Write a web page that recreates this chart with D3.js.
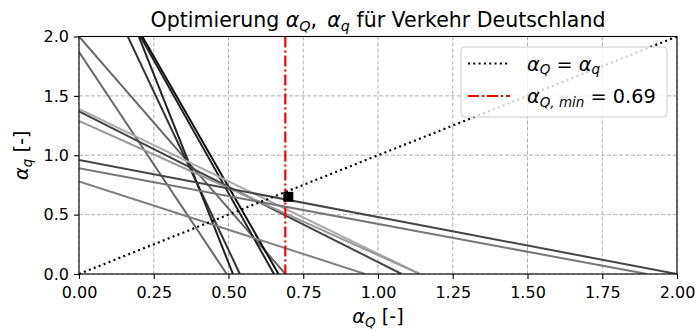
<!DOCTYPE html>
<html>
<head>
<meta charset="utf-8">
<script src="https://cdn.jsdelivr.net/npm/d3@7"></script>
<style>
body { margin: 0; background: #fff; }
text { font-family: "DejaVu Sans", sans-serif; fill: #000; }
</style>
</head>
<body>
<svg id="viz"></svg>
<script>
// constraint lines  alpha_Q / interceptQ + alpha_q / interceptq = 1
var interceptQ = [0.69, 0.494, 0.538, 0.515, 0.652, 0.667, 1.14, 1.079, 1.14, 2.0, 1.9, 0.957];
var interceptq = [2.0, 1.87, 2.87, 3.27, 2.92, 2.93, 1.39, 1.37, 1.29, 0.96, 0.89, 0.78];
var shades = ["#666", "#666", "#333", "#222", "#222", "#111", "#aaa", "#444", "#999", "#444", "#777", "#808080"];

var alphaQMin = 0.69;
var optimum = [0.70, 0.65];
var diagonal = [[0, 0], [2, 2]];

var xTicks = [0, 0.25, 0.5, 0.75, 1.0, 1.25, 1.5, 1.75, 2.0];
var yTicks = [0, 0.5, 1.0, 1.5, 2.0];

var width = 696, height = 331;
var margin = {left: 79, right: 19, top: 36.5, bottom: 57};
var w = width - margin.left - margin.right;
var h = height - margin.top - margin.bottom;
var big = 19.3, small = 16, titleSize = 20.5;

var svg = d3.select("#viz").attr("width", width).attr("height", height);

var x = d3.scaleLinear().domain([0, 2]).range([0, w]);
var y = d3.scaleLinear().domain([0, 2]).range([h, 0]);

var g = svg.append("g").attr("transform", "translate(" + margin.left + "," + margin.top + ")");

svg.append("defs").append("clipPath").attr("id", "plotclip")
    .append("rect").attr("width", w).attr("height", h);

// grid
g.append("g").selectAll("line").data(xTicks).enter().append("line")
    .attr("x1", d => x(d)).attr("x2", d => x(d)).attr("y1", 0).attr("y2", h)
    .attr("stroke", "#b0b0b0").attr("stroke-width", 1).attr("stroke-dasharray", "4,2");
g.append("g").selectAll("line").data(yTicks).enter().append("line")
    .attr("y1", d => y(d)).attr("y2", d => y(d)).attr("x1", 0).attr("x2", w)
    .attr("stroke", "#b0b0b0").attr("stroke-width", 1).attr("stroke-dasharray", "4,2");

var plot = g.append("g").attr("clip-path", "url(#plotclip)");

var lines = interceptQ.map((a, i) => ({a: a, b: interceptq[i], c: shades[i]}));
plot.selectAll("line.constraint").data(lines).enter().append("line")
    .attr("class", "constraint")
    .attr("x1", x(0)).attr("y1", d => y(d.b))
    .attr("x2", d => x(d.a)).attr("y2", y(0))
    .attr("stroke", d => d.c).attr("stroke-width", 2);

plot.append("line")
    .attr("x1", x(diagonal[0][0])).attr("y1", y(diagonal[0][1]))
    .attr("x2", x(diagonal[1][0])).attr("y2", y(diagonal[1][1]))
    .attr("stroke", "#000").attr("stroke-width", 2.2).attr("stroke-dasharray", "2,3.3");

plot.append("line")
    .attr("x1", x(alphaQMin)).attr("x2", x(alphaQMin)).attr("y1", y(2)).attr("y2", y(0))
    .attr("stroke", "#ff0000").attr("stroke-width", 2.2).attr("stroke-dasharray", "11,3,2,3");

plot.append("rect")
    .attr("x", x(optimum[0]) - 5).attr("y", y(optimum[1]) - 5)
    .attr("width", 10).attr("height", 10).attr("fill", "#000");

// axes
var xAxis = d3.axisBottom(x).tickValues(xTicks).tickFormat(d3.format(".2f"))
    .tickSize(5).tickSizeOuter(0).tickPadding(8);
var yAxis = d3.axisLeft(y).tickValues(yTicks).tickFormat(d3.format(".1f"))
    .tickSize(5).tickSizeOuter(0).tickPadding(5);

g.append("g").attr("transform", "translate(0," + h + ")").call(xAxis)
    .call(s => s.select(".domain").remove())
    .call(s => s.selectAll("text").attr("font-size", small).attr("font-family", "DejaVu Sans"));
g.append("g").call(yAxis)
    .call(s => s.select(".domain").remove())
    .call(s => s.selectAll("text").attr("font-size", small).attr("font-family", "DejaVu Sans"));
g.selectAll(".tick line").attr("stroke", "#000").attr("stroke-width", 1.1);

g.append("rect").attr("width", w).attr("height", h)
    .attr("fill", "none").attr("stroke", "#000").attr("stroke-width", 1.1);

// math-ish text with italic symbols and subscripts
function mathText(sel, parts, size) {
    var shifted = false;
    parts.forEach(function(p) {
        var ts = sel.append("tspan").text(p.t);
        if (p.it) ts.attr("font-style", "italic");
        if (p.sub) {
            ts.attr("font-size", size * 0.7);
            if (!shifted) ts.attr("dy", size * 0.2);
            shifted = true;
        } else if (shifted) {
            ts.attr("dy", -size * 0.2);
            shifted = false;
        }
    });
}

var title = svg.append("text").attr("x", margin.left + w / 2).attr("y", 27)
    .attr("text-anchor", "middle").attr("font-size", titleSize);
mathText(title, [
    {t: "Optimierung "}, {t: "α", it: true}, {t: "Q", it: true, sub: true},
    {t: ",\u2002"}, {t: "α", it: true}, {t: "q", it: true, sub: true},
    {t: " für Verkehr Deutschland"}
], titleSize);

var xl = svg.append("text").attr("x", margin.left + w / 2).attr("y", 323)
    .attr("text-anchor", "middle").attr("font-size", big);
mathText(xl, [{t: "α", it: true}, {t: "Q", it: true, sub: true}, {t: " [-]"}], big);

var yl = svg.append("text").attr("transform", "translate(28," + (margin.top + h / 2) + ") rotate(-90)")
    .attr("text-anchor", "middle").attr("font-size", big);
mathText(yl, [{t: "α", it: true}, {t: "q", it: true, sub: true}, {t: " [-]"}], big);

// legend
var lg = svg.append("g").attr("transform", "translate(461,47)");
lg.append("rect").attr("width", 206).attr("height", 70).attr("rx", 4)
    .attr("fill", "#fff").attr("fill-opacity", 0.8).attr("stroke", "#ccc").attr("stroke-width", 1);
lg.append("line").attr("x1", 7).attr("x2", 49).attr("y1", 16.5).attr("y2", 16.5)
    .attr("stroke", "#000").attr("stroke-width", 2.2).attr("stroke-dasharray", "2,3.3");
lg.append("line").attr("x1", 7).attr("x2", 49).attr("y1", 49).attr("y2", 49)
    .attr("stroke", "#ff0000").attr("stroke-width", 2.2).attr("stroke-dasharray", "11,3,2,3");
var t1 = lg.append("text").attr("x", 66).attr("y", 23.5).attr("font-size", big);
mathText(t1, [{t: "α", it: true}, {t: "Q", it: true, sub: true}, {t: " = "}, {t: "α", it: true}, {t: "q", it: true, sub: true}], big);
var t2 = lg.append("text").attr("x", 66).attr("y", 56).attr("font-size", big);
mathText(t2, [{t: "α", it: true}, {t: "Q, min", it: true, sub: true}, {t: " = 0.69"}], big);
</script>
</body>
</html>
